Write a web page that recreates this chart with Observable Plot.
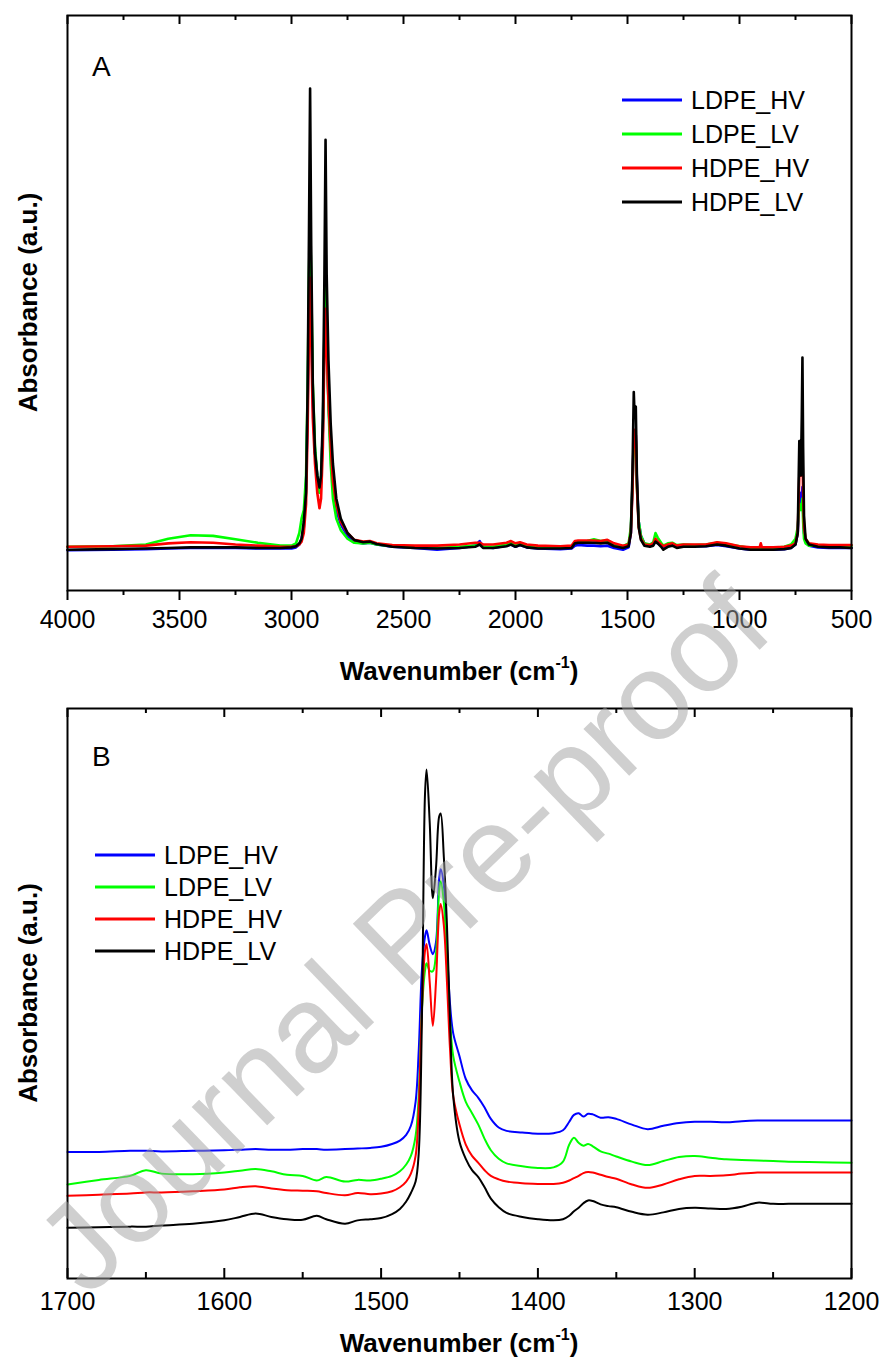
<!DOCTYPE html>
<html>
<head>
<meta charset="utf-8">
<script src="https://cdn.jsdelivr.net/npm/d3@7"></script>
<script src="https://cdn.jsdelivr.net/npm/@observablehq/plot@0.6"></script>
<style>
  body { margin: 0; background: #fff; }
  #page { position: relative; width: 879px; height: 1358px; overflow: hidden; background: #fff;
          font-family: "Liberation Sans", Arial, sans-serif; }
  #page svg { position: absolute; left: 0; }
</style>
</head>
<body>
<div id="page"></div>
<script>
// ---------- data ----------
const seriesNames = ["LDPE_HV", "LDPE_LV", "HDPE_HV", "HDPE_LV"];
const seriesColors = ["#0000ff", "#00ff00", "#ff0000", "#000000"];

// Panel A: full spectrum 4000-500 cm-1
const wavenumberA = [4000,3800,3650,3550,3450,3350,3250,3150,3050,3000,
  2980,2965,2955,2945,2935,2928,2922,2917,2912,2905,
  2895,2885,2875,2868,2860,2853,2848,2843,2835,2825,
  2815,2800,2780,2750,2720,2680,2650,2620,2550,2450,
  2350,2250,2180,2160,2145,2100,2040,2020,2000,1980,
  1950,1900,1800,1750,1735,1720,1680,1650,1620,1590,
  1560,1520,1495,1485,1478,1472,1468,1463,1458,1450,
  1440,1425,1400,1385,1375,1365,1350,1340,1320,1300,
  1280,1250,1200,1150,1100,1060,1000,950,910,905,
  900,850,800,770,750,740,733,730,726,722,
  719,716,712,705,690,650,600,550,500];
const ldpeHvA = [0.070,0.071,0.072,0.073,0.074,0.074,0.074,0.073,0.073,0.073,
  0.075,0.08,0.09,0.11,0.18,0.32,0.50,0.60,0.50,0.33,
  0.24,0.20,0.17,0.19,0.28,0.45,0.52,0.44,0.33,0.24,
  0.18,0.14,0.115,0.095,0.085,0.082,0.083,0.08,0.076,0.074,
  0.071,0.074,0.078,0.086,0.076,0.074,0.078,0.080,0.076,0.079,
  0.075,0.073,0.072,0.073,0.078,0.079,0.078,0.078,0.077,0.078,
  0.074,0.071,0.075,0.10,0.18,0.27,0.25,0.27,0.19,0.12,
  0.095,0.082,0.078,0.08,0.086,0.082,0.078,0.074,0.077,0.079,
  0.076,0.077,0.077,0.077,0.079,0.077,0.073,0.071,0.071,0.071,
  0.071,0.071,0.072,0.074,0.080,0.10,0.16,0.17,0.15,0.16,
  0.18,0.14,0.10,0.085,0.078,0.075,0.074,0.074,0.074];
const ldpeLvA = [0.076,0.077,0.080,0.090,0.096,0.095,0.089,0.083,0.078,0.078,
  0.082,0.10,0.125,0.14,0.20,0.35,0.55,0.65,0.54,0.36,
  0.25,0.20,0.17,0.19,0.28,0.45,0.53,0.44,0.32,0.22,
  0.16,0.125,0.105,0.09,0.083,0.082,0.083,0.08,0.077,0.075,
  0.074,0.076,0.078,0.08,0.076,0.076,0.080,0.083,0.079,0.081,
  0.077,0.075,0.075,0.076,0.083,0.085,0.086,0.089,0.086,0.087,
  0.080,0.077,0.082,0.11,0.18,0.26,0.24,0.26,0.18,0.12,
  0.095,0.082,0.080,0.084,0.10,0.092,0.083,0.078,0.082,0.083,
  0.079,0.080,0.079,0.080,0.083,0.081,0.077,0.074,0.074,0.074,
  0.074,0.074,0.076,0.080,0.090,0.11,0.15,0.15,0.14,0.15,
  0.16,0.12,0.09,0.082,0.078,0.078,0.078,0.078,0.078];
const hdpeHvA = [0.076,0.077,0.078,0.082,0.084,0.083,0.080,0.078,0.076,0.076,
  0.077,0.08,0.085,0.10,0.15,0.28,0.45,0.544,0.44,0.30,
  0.22,0.17,0.143,0.16,0.25,0.42,0.49,0.42,0.33,0.25,
  0.19,0.15,0.12,0.10,0.088,0.085,0.086,0.082,0.079,0.078,
  0.078,0.080,0.083,0.083,0.080,0.080,0.083,0.086,0.082,0.084,
  0.080,0.078,0.077,0.078,0.086,0.087,0.087,0.087,0.086,0.088,
  0.082,0.078,0.080,0.10,0.17,0.28,0.25,0.27,0.18,0.11,
  0.09,0.08,0.079,0.082,0.09,0.085,0.080,0.077,0.080,0.082,
  0.078,0.080,0.080,0.080,0.084,0.082,0.077,0.075,0.075,0.082,
  0.075,0.075,0.076,0.078,0.082,0.10,0.20,0.23,0.20,0.24,
  0.25,0.17,0.11,0.09,0.082,0.080,0.079,0.079,0.079];
const hdpeLvA = [0.071,0.072,0.073,0.074,0.075,0.075,0.075,0.074,0.074,0.075,
  0.077,0.082,0.09,0.12,0.17,0.35,0.62,0.873,0.60,0.36,
  0.24,0.20,0.179,0.20,0.30,0.55,0.784,0.55,0.40,0.29,
  0.22,0.16,0.125,0.10,0.088,0.084,0.085,0.081,0.076,0.074,
  0.073,0.074,0.076,0.08,0.074,0.074,0.077,0.080,0.076,0.079,
  0.075,0.073,0.073,0.074,0.082,0.083,0.083,0.083,0.082,0.083,
  0.077,0.074,0.077,0.10,0.20,0.345,0.30,0.32,0.20,0.11,
  0.088,0.078,0.076,0.078,0.085,0.082,0.076,0.071,0.076,0.078,
  0.074,0.076,0.076,0.077,0.080,0.078,0.073,0.071,0.071,0.071,
  0.071,0.071,0.072,0.074,0.080,0.10,0.26,0.26,0.20,0.30,
  0.405,0.25,0.13,0.09,0.08,0.076,0.075,0.075,0.074];
const majorTicksA = [4000,3500,3000,2500,2000,1500,1000,500];
const minorTicksA = [3750,3250,2750,2250,1750,1250,750];

// Panel B: zoom 1700-1200 cm-1
const wavenumberB = [1700,1680,1660,1650,1640,1620,1600,1590,1580,1570,
  1560,1550,1541,1535,1523,1515,1507,1500,1493,1488,
  1484,1481,1478,1476,1474,1472,1471,1469,1467,1465,
  1463,1462,1460,1458,1456,1454,1450,1446,1442,1438,
  1434,1430,1425,1420,1410,1400,1390,1384,1380,1377,
  1374,1371,1368,1365,1360,1355,1350,1340,1330,1320,
  1310,1300,1290,1280,1270,1260,1250,1240,1220,1200];
const ldpeHvB = [0.222,0.222,0.224,0.224,0.223,0.224,0.225,0.226,0.227,0.226,
  0.226,0.227,0.227,0.226,0.227,0.228,0.229,0.231,0.236,0.242,
  0.252,0.268,0.31,0.40,0.54,0.60,0.611,0.585,0.569,0.59,
  0.70,0.718,0.69,0.58,0.48,0.43,0.39,0.35,0.33,0.317,
  0.30,0.28,0.265,0.259,0.256,0.254,0.255,0.26,0.275,0.287,
  0.29,0.284,0.289,0.288,0.282,0.283,0.28,0.27,0.262,0.268,
  0.273,0.275,0.275,0.274,0.276,0.277,0.277,0.277,0.277,0.277];
const ldpeLvB = [0.165,0.173,0.180,0.19,0.184,0.183,0.186,0.189,0.192,0.188,
  0.182,0.18,0.172,0.178,0.17,0.173,0.172,0.175,0.18,0.188,
  0.20,0.215,0.25,0.32,0.47,0.54,0.553,0.54,0.539,0.57,
  0.68,0.697,0.66,0.55,0.45,0.39,0.345,0.31,0.29,0.27,
  0.245,0.225,0.21,0.202,0.197,0.194,0.195,0.205,0.235,0.247,
  0.238,0.233,0.236,0.232,0.223,0.219,0.214,0.205,0.199,0.206,
  0.213,0.215,0.212,0.209,0.208,0.207,0.206,0.205,0.204,0.203];
const hdpeHvB = [0.145,0.147,0.149,0.151,0.151,0.153,0.156,0.16,0.162,0.158,
  0.155,0.154,0.153,0.15,0.146,0.15,0.148,0.149,0.153,0.16,
  0.17,0.184,0.215,0.30,0.47,0.575,0.587,0.52,0.443,0.52,
  0.64,0.657,0.62,0.52,0.40,0.32,0.27,0.235,0.215,0.203,
  0.19,0.18,0.174,0.17,0.167,0.166,0.166,0.168,0.172,0.176,
  0.18,0.185,0.187,0.186,0.182,0.178,0.175,0.165,0.159,0.165,
  0.174,0.18,0.18,0.181,0.184,0.186,0.186,0.186,0.186,0.186];
const hdpeLvB = [0.089,0.09,0.091,0.091,0.093,0.096,0.102,0.108,0.114,0.108,
  0.104,0.103,0.11,0.104,0.096,0.102,0.104,0.106,0.113,0.122,
  0.135,0.15,0.17,0.22,0.45,0.85,0.893,0.80,0.667,0.72,
  0.81,0.816,0.74,0.62,0.45,0.32,0.24,0.21,0.19,0.178,
  0.16,0.14,0.125,0.115,0.108,0.104,0.102,0.104,0.11,0.118,
  0.124,0.132,0.137,0.136,0.13,0.127,0.125,0.117,0.112,0.116,
  0.122,0.124,0.123,0.122,0.126,0.133,0.131,0.131,0.131,0.131];
const majorTicksB = [1700,1600,1500,1400,1300,1200];
const minorTicksB = [1650,1550,1450,1350,1250];

const xTitleMain = "Wavenumber (cm";
const xTitleSup = "-1";
const yTitle = "Absorbance (a.u.)";
const watermark = "Journal Pre-proof";

// ---------- helpers ----------
const FONT = "Liberation Sans, Arial, sans-serif";
function rows(grid, vals) { return grid.map((w, i) => ({w, a: vals[i]})); }

function panel({grid, series, domain, major, minor, top, height, mt, mb, lineW, outward, tickPad, curve}) {
  const ml = 67, mr = 28;
  const fh = height - mt - mb;
  const marks = [];
  series.forEach((vals, i) => {
    marks.push(Plot.line(rows(grid, vals), {x: "w", y: "a", stroke: seriesColors[i], strokeWidth: lineW, curve}));
  });
  marks.push(Plot.frame({stroke: "black", strokeWidth: 2}));
  // top ticks (inward)
  marks.push(Plot.tickX(major, {x: d => d, insetBottom: fh - 9, stroke: "black", strokeWidth: 2}));
  marks.push(Plot.tickX(minor, {x: d => d, insetBottom: fh - 5, stroke: "black", strokeWidth: 2}));
  if (outward) {
    marks.push(Plot.tickX(major, {x: d => d, insetTop: fh, insetBottom: -10, stroke: "black", strokeWidth: 2}));
    marks.push(Plot.tickX(minor, {x: d => d, insetTop: fh, insetBottom: -5, stroke: "black", strokeWidth: 2}));
  } else {
    marks.push(Plot.tickX(major, {x: d => d, insetTop: fh - 10, stroke: "black", strokeWidth: 2}));
    marks.push(Plot.tickX(minor, {x: d => d, insetTop: fh - 6, stroke: "black", strokeWidth: 2}));
  }
  marks.push(Plot.axisX({ticks: major, tickSize: 0, tickPadding: tickPad, tickFormat: d => String(d),
    fontSize: 25, fill: "black", label: null}));
  const svg = Plot.plot({
    width: 879, height, marginTop: mt, marginBottom: mb, marginLeft: ml, marginRight: mr,
    style: {fontFamily: FONT, fontSize: "25px", color: "black", background: "transparent", overflow: "visible"},
    x: {domain},
    y: {domain: [0, 1], axis: null},
    marks
  });
  svg.style.top = top + "px";
  return {svg, fh, ml, mr, mt};
}

function addTexts(p, {letter, letterY, xTitleY, legendX, legendY, legendGap}) {
  const s = d3.select(p.svg);
  const fx0 = p.ml, fx1 = 879 - p.mr;
  s.append("text").attr("x", 92).attr("y", letterY).attr("text-anchor", "start").attr("font-family", FONT)
    .attr("font-size", 28).attr("fill", "black").text(letter);
  const t = s.append("text").attr("x", (fx0 + fx1) / 2).attr("y", xTitleY).attr("text-anchor", "middle")
    .attr("font-family", FONT).attr("font-weight", "bold").attr("font-size", 26).attr("fill", "black");
  t.append("tspan").text(xTitleMain);
  t.append("tspan").attr("dy", -12).attr("font-size", 16).text(xTitleSup);
  t.append("tspan").attr("dy", 12).text(")");
  const cy = p.mt + p.fh / 2;
  s.append("text").attr("transform", `translate(37,${cy}) rotate(-90)`).attr("text-anchor", "middle")
    .attr("font-family", FONT).attr("font-weight", "bold").attr("font-size", 26).attr("fill", "black").text(yTitle);
  seriesNames.forEach((name, i) => {
    const y = legendY + i * legendGap;
    s.append("line").attr("x1", legendX).attr("x2", legendX + 60).attr("y1", y).attr("y2", y)
      .attr("stroke", seriesColors[i]).attr("stroke-width", 2.8);
    s.append("text").attr("x", legendX + 69).attr("y", y).attr("dy", "0.36em").attr("text-anchor", "start")
      .attr("font-family", FONT).attr("font-size", 25).attr("fill", "black").text(name);
  });
}

const page = document.getElementById("page");

const A = panel({grid: wavenumberA, series: [ldpeHvA, ldpeLvA, hdpeHvA, hdpeLvA], domain: [4000, 500],
  major: majorTicksA, minor: minorTicksA, top: 0, height: 690, mt: 15, mb: 100, lineW: 2.6,
  outward: true, tickPad: 20, curve: "linear"});
page.appendChild(A.svg);
addTexts(A, {letter: "A", letterY: 76, xTitleY: 680, legendX: 622, legendY: 100, legendGap: 34});

const B = panel({grid: wavenumberB, series: [ldpeHvB, ldpeLvB, hdpeHvB, hdpeLvB], domain: [1700, 1200],
  major: majorTicksB, minor: minorTicksB, top: 690, height: 668, mt: 18, mb: 80, lineW: 2,
  outward: false, tickPad: 14, curve: "catmull-rom"});
page.appendChild(B.svg);
addTexts(B, {letter: "B", letterY: 76, xTitleY: 662, legendX: 95, legendY: 165, legendGap: 32});

// watermark overlay
const ov = d3.select(page).append("svg").attr("width", 879).attr("height", 1358)
  .style("top", "0px").style("pointer-events", "none");
ov.append("text").attr("transform", "translate(432,966) rotate(-44)").attr("text-anchor", "middle")
  .attr("font-family", FONT).attr("font-size", 124).attr("fill", "#a0a0a0").attr("fill-opacity", 0.5)
  .text(watermark);
</script>
</body>
</html>
